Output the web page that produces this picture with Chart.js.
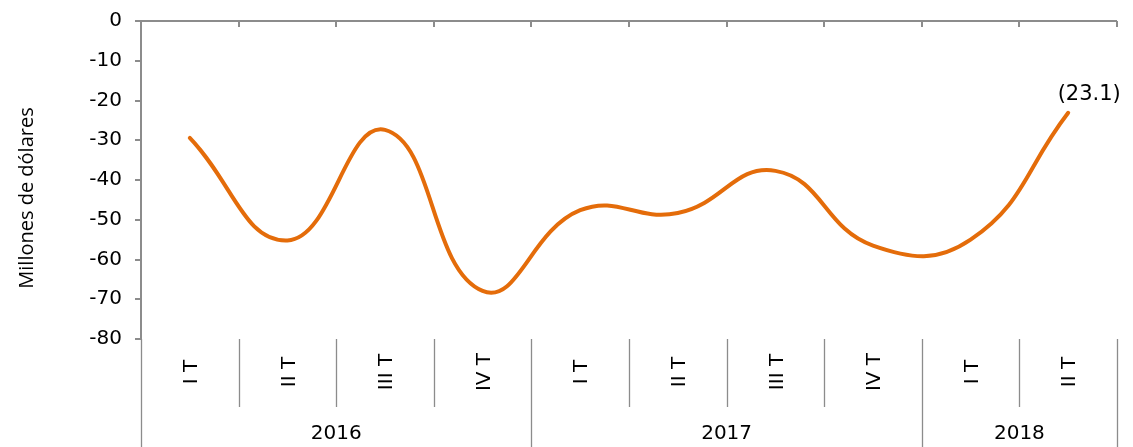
<!DOCTYPE html>
<html>
<head>
<meta charset="utf-8">
<script src="https://cdn.jsdelivr.net/npm/chart.js@4.4.0/dist/chart.umd.min.js"></script>
<style>
  html, body { margin: 0; padding: 0; background: #fff; }
  #wrap { width: 1133px; height: 447px; }
</style>
</head>
<body>
<div id="wrap"><canvas id="chart" width="1133" height="447"></canvas></div>
<script>
// quarters and years
const quarters = ['I T', 'II T', 'III T', 'IV T', 'I T', 'II T', 'III T', 'IV T', 'I T', 'II T'];
const years = ['2016', '2017', '2018'];
const quartersPerYear = [4, 4, 2];

// millones de dólares
const values = [-29.4, -55.2, -27.4, -67.9, -47.6, -48.3, -37.7, -56.5, -55.0, -23.1];

const yTicks = [0, -10, -20, -30, -40, -50, -60, -70, -80];
const yTitle = 'Millones de dólares';

const axisColor = '#8c8c8c';
const lineColor = '#e46c0a';
const fontFamily = 'DejaVu Sans';

// draws the top axis, the grouped category labels, the y title and the last data label
const decorations = {
    id: 'decorations',
    afterDraw(chart) {
        const ctx = chart.ctx;
        const area = chart.chartArea;
        const x = chart.scales.x;
        const step = area.width / quarters.length;

        ctx.save();
        ctx.strokeStyle = axisColor;
        ctx.lineWidth = 2;

        // top axis line with tick marks pointing down
        ctx.beginPath();
        ctx.moveTo(area.left, area.top);
        ctx.lineTo(area.right, area.top);
        for (let i = 0; i <= quarters.length; i++) {
            const bx = Math.round(area.left + i * step);
            ctx.moveTo(bx, area.top);
            ctx.lineTo(bx, area.top + 6);
        }
        ctx.stroke();

        // separators under the plot
        ctx.lineWidth = 1.3;
        let yearStarts = [0];
        quartersPerYear.reduce((acc, n) => { yearStarts.push(acc + n); return acc + n; }, 0);
        ctx.beginPath();
        for (let i = 0; i <= quarters.length; i++) {
            const bx = Math.round(area.left + i * step) + 0.5;
            const isYear = yearStarts.includes(i);
            ctx.moveTo(bx, area.bottom);
            ctx.lineTo(bx, isYear ? chart.height : area.bottom + 68);
        }
        ctx.stroke();

        // quarter labels, rotated
        ctx.fillStyle = '#000';
        ctx.font = '20px "' + fontFamily + '"';
        ctx.textAlign = 'center';
        ctx.textBaseline = 'middle';
        quarters.forEach((q, i) => {
            ctx.save();
            ctx.translate(x.getPixelForValue(i) + 2, area.bottom + 33);
            ctx.rotate(-Math.PI / 2);
            ctx.fillText(q, 0, 0);
            ctx.restore();
        });

        // year labels
        years.forEach((yr, k) => {
            const a = area.left + yearStarts[k] * step;
            const b = area.left + yearStarts[k + 1] * step;
            ctx.fillText(yr, (a + b) / 2, area.bottom + 95);
        });

        // y axis title
        ctx.save();
        ctx.font = '20px "Open Sans"';
        ctx.translate(27, 198);
        ctx.rotate(-Math.PI / 2);
        ctx.fillText(yTitle, 0, 0);
        ctx.restore();

        // data label on the last point
        const meta = chart.getDatasetMeta(0);
        const last = meta.data[meta.data.length - 1];
        const v = values[values.length - 1];
        const txt = v < 0 ? '(' + Math.abs(v).toFixed(1) + ')' : v.toFixed(1);
        ctx.font = '21px "' + fontFamily + '"';
        ctx.fillText(txt, last.x + 21, last.y - 18);
        ctx.restore();
    }
};

new Chart(document.getElementById('chart'), {
    type: 'line',
    data: {
        labels: quarters,
        datasets: [{
            data: values,
            borderColor: lineColor,
            borderWidth: 4,
            tension: 0.45,
            pointRadius: 0,
            fill: false,
            borderCapStyle: 'round'
        }]
    },
    options: {
        responsive: false,
        animation: false,
        layout: { padding: { top: 21, right: 16, bottom: 108, left: 0 } },
        plugins: {
            legend: { display: false },
            tooltip: { enabled: false }
        },
        scales: {
            x: {
                display: false,
                offset: true
            },
            y: {
                min: -80,
                max: 0,
                afterBuildTicks(scale) {
                    scale.ticks = yTicks.map(v => ({ value: v }));
                },
                afterFit(scale) {
                    scale.width = 141;
                    scale.paddingTop = 0;
                    scale.paddingBottom = 0;
                },
                border: { color: axisColor, width: 2 },
                grid: {
                    drawOnChartArea: false,
                    color: axisColor,
                    lineWidth: 2,
                    tickLength: 6
                },
                ticks: {
                    color: '#000',
                    padding: 13,
                    font: { family: fontFamily, size: 20 }
                }
            }
        }
    },
    plugins: [decorations]
});
</script>
</body>
</html>
